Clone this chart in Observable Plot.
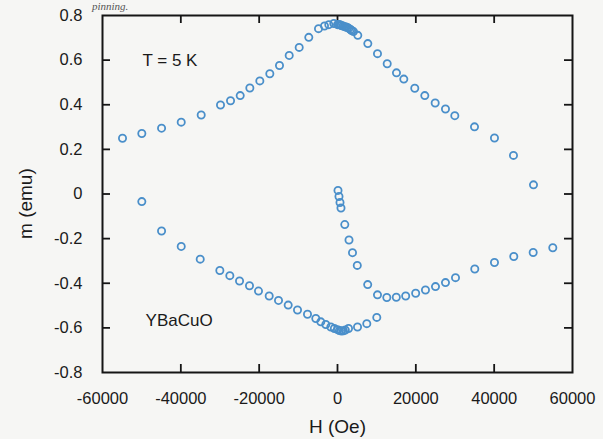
<!DOCTYPE html>
<html><head><meta charset="utf-8">
<script src="https://cdn.jsdelivr.net/npm/d3@7"></script>
<script src="https://cdn.jsdelivr.net/npm/@observablehq/plot@0.6"></script>
<style>
html,body{margin:0;padding:0;background:#f6f6f4;}
#wrap{position:relative;width:603px;height:439px;overflow:hidden;}
#stray{position:absolute;left:92px;top:0px;font:italic 11px "Liberation Serif",serif;color:#555;line-height:12px;}
</style></head><body><div id="wrap"><div id="chart"></div><div id="stray">pinning.</div></div>
<script>
// Descending-field branch (upper)
const upperH = [50040, 44930, 40080, 34980, 29950, 27570, 24940, 22290, 19730, 16930, 15060, 12690, 10210, 7740, 5180, 4085, 3600, 3320, 2900, 2550, 2200, 1790, 1400, 1020, 760, 510, 250, 0, -945, -2220, -3320, -4850, -7330, -9780, -12330, -14810, -17280, -19830, -22380, -24840, -27310, -29870, -34800, -39900, -44920, -49960, -54890];
const upperM = [0.041, 0.173, 0.251, 0.301, 0.351, 0.381, 0.408, 0.441, 0.474, 0.515, 0.543, 0.584, 0.629, 0.674, 0.711, 0.728, 0.733, 0.737, 0.742, 0.746, 0.748, 0.750, 0.753, 0.755, 0.757, 0.759, 0.760, 0.759, 0.764, 0.759, 0.753, 0.741, 0.702, 0.657, 0.621, 0.576, 0.539, 0.507, 0.475, 0.441, 0.418, 0.399, 0.354, 0.322, 0.295, 0.271, 0.250];
// Ascending-field branch (lower left)
const lowerH = [-49960, -44920, -39900, -35050, -30040, -27490, -25010, -22470, -20170, -17440, -15060, -12590, -10210, -7660, -5540, -4260, -2990, -1700, -800, 0, 500, 1000, 1500, 2000, 2810, 5110, 7480, 10030];
const lowerM = [-0.034, -0.166, -0.235, -0.292, -0.343, -0.366, -0.390, -0.411, -0.435, -0.457, -0.477, -0.498, -0.520, -0.539, -0.558, -0.573, -0.585, -0.596, -0.603, -0.608, -0.612, -0.614, -0.613, -0.610, -0.603, -0.596, -0.581, -0.553];
// Virgin curve and its continuation to high field
const virginH = [130, 380, 640, 890, 1860, 2940, 3830, 5050, 7710, 10210, 12590, 15010, 17410, 19960, 22460, 25020, 27570, 30130, 35050, 40080, 45010, 49960, 54970];
const virginM = [0.016, -0.011, -0.038, -0.063, -0.137, -0.206, -0.263, -0.320, -0.406, -0.452, -0.464, -0.463, -0.457, -0.445, -0.430, -0.415, -0.397, -0.375, -0.336, -0.307, -0.280, -0.262, -0.241];

const xTicks = [-60000, -40000, -20000, 0, 20000, 40000, 60000];
const yTicks = [-0.8, -0.6, -0.4, -0.2, 0, 0.2, 0.4, 0.6, 0.8];
const xInner = [-40000, -20000, 0, 20000, 40000];
const yInner = [-0.6, -0.4, -0.2, 0, 0.2, 0.4, 0.6];
const notes = [{H: -49800, m: 0.60, t: "T = 5 K"}, {H: -49000, m: -0.566, t: "YBaCuO"}];
const xLabel = "H (Oe)";
const yLabel = {m: -0.043, t: "m (emu)"};

const W = 603, Ht = 439, mL = 102, mR = 31, mT = 15, mB = 67;
const pw = W - mL - mR, ph = Ht - mT - mB, tk = 8;
const toPts = (hs, ms) => hs.map((h, i) => ({H: h, m: ms[i]}));
const pts = [...toPts(upperH, upperM), ...toPts(lowerH, lowerM), ...toPts(virginH, virginM)];
const ink = "#151515";

const chart = Plot.plot({
  width: W, height: Ht,
  marginLeft: mL, marginRight: mR, marginTop: mT, marginBottom: mB,
  style: {background: "transparent", fontFamily: "'Liberation Sans', Arial, sans-serif", color: "#1a1a1a"},
  x: {domain: [-60000, 60000]},
  y: {domain: [-0.8, 0.8]},
  marks: [
    Plot.axisX({ticks: xTicks, tickSize: 0, tickPadding: 20, fontSize: 16.5, label: null, tickFormat: d => String(d)}),
    Plot.axisY({ticks: yTicks, tickSize: 0, tickPadding: 20, fontSize: 16.5, label: null, tickFormat: d => String(d)}),
    Plot.ruleX(xInner, {x: d => d, insetTop: ph - tk, stroke: ink, strokeWidth: 1.8}),
    Plot.ruleX(xInner, {x: d => d, insetBottom: ph - tk, stroke: ink, strokeWidth: 1.8}),
    Plot.ruleY(yInner, {y: d => d, insetRight: pw - tk, stroke: ink, strokeWidth: 1.8}),
    Plot.ruleY(yInner, {y: d => d, insetLeft: pw - tk, stroke: ink, strokeWidth: 1.8}),
    Plot.frame({stroke: ink, strokeWidth: 2}),
    Plot.dot(pts, {x: "H", y: "m", r: 3.6, stroke: "#4a8fca", strokeWidth: 1.8, fill: "none"}),
    Plot.text(notes, {x: "H", y: "m", text: "t", textAnchor: "start", fontSize: 17, fill: "#1a1a1a"}),
    Plot.text([xLabel], {text: d => d, frameAnchor: "bottom", dy: 60, fontSize: 19, fill: "#1a1a1a"}),
    Plot.text([yLabel], {y: "m", text: "t", frameAnchor: "left", textAnchor: "middle", dx: -77, rotate: -90, fontSize: 19, fill: "#1a1a1a"})
  ]
});
document.getElementById("chart").appendChild(chart);
</script>
</body></html>
